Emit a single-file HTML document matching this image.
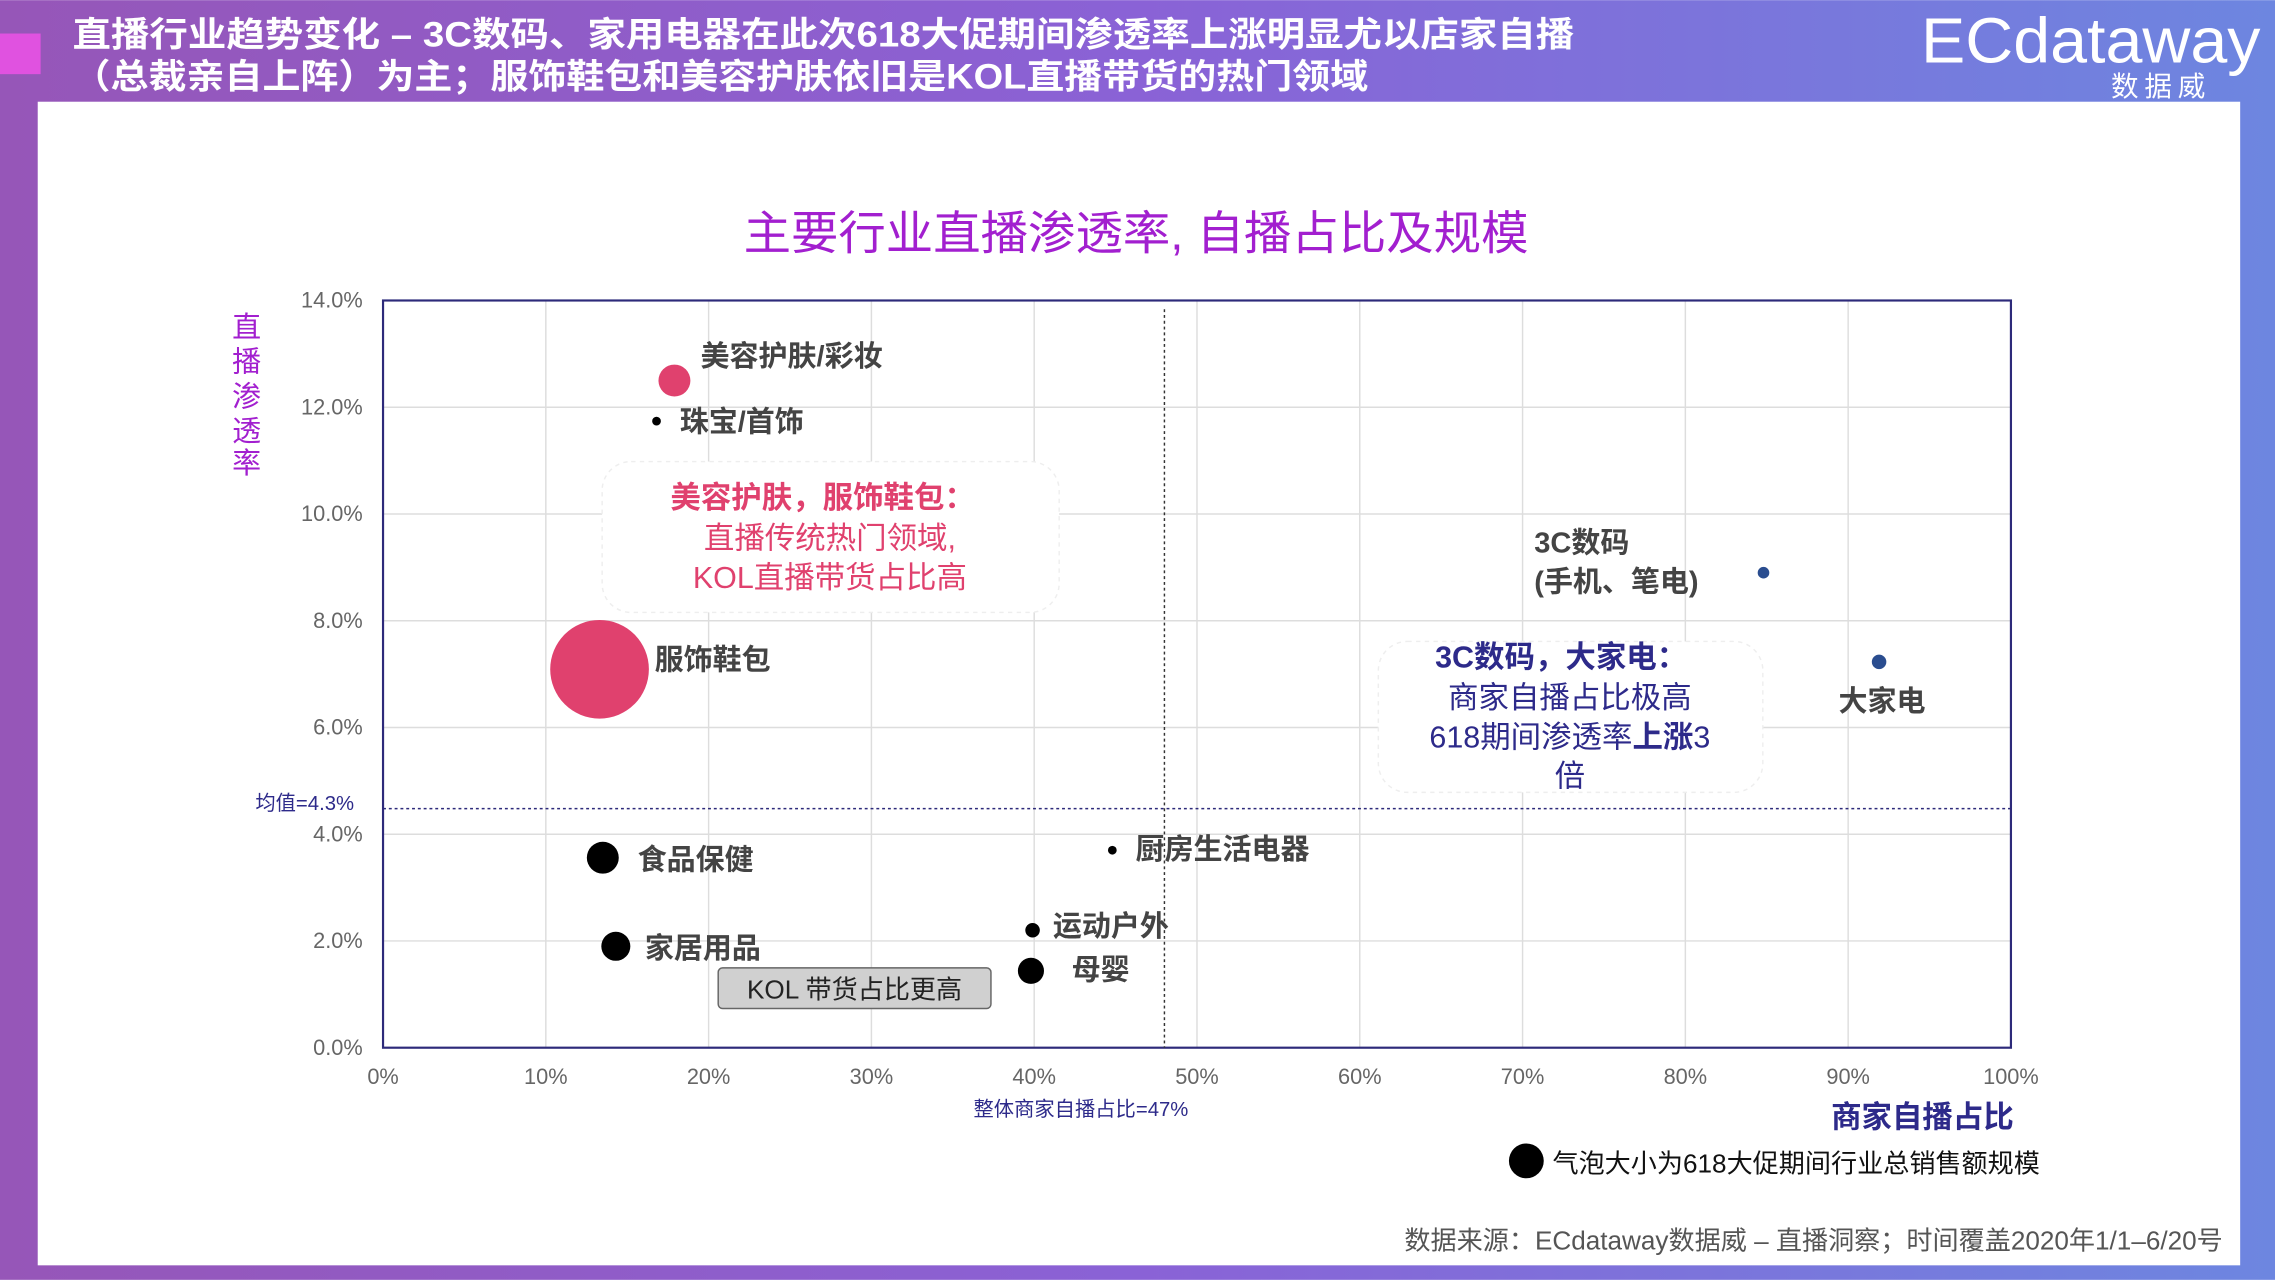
<!DOCTYPE html>
<html><head><meta charset="utf-8"><style>
body{margin:0;width:2275px;height:1280px;overflow:hidden;font-family:"Liberation Sans","Noto Sans CJK SC",sans-serif}
svg{display:block}
text{font-family:"Liberation Sans","Noto Sans CJK SC",sans-serif}
</style></head><body>
<svg id="c" width="2275" height="1280" viewBox="0 0 1568 882">
<defs><linearGradient id="bg" x1="0" x2="1"><stop offset="0" stop-color="#9656b8"/><stop offset="0.5" stop-color="#8a62d6"/><stop offset="1" stop-color="#6d86e0"/></linearGradient></defs>
<rect width="1568" height="882" fill="url(#bg)"/>
<rect x="0" y="23" width="28" height="28" fill="#e052e0"/>
<text x="50" y="32" font-size="24" font-weight="bold" fill="#fff" textLength="1035" lengthAdjust="spacingAndGlyphs">直播行业趋势变化 – 3C数码、家用电器在此次618大促期间渗透率上涨明显尤以店家自播</text>
<text x="50" y="61" font-size="24" font-weight="bold" fill="#fff" textLength="893" lengthAdjust="spacingAndGlyphs">（总裁亲自上阵）为主；服饰鞋包和美容护肤依旧是KOL直播带货的热门领域</text>
<text x="1324" y="43" font-size="44" fill="#fff" textLength="234" lengthAdjust="spacingAndGlyphs">ECdataway</text>
<text x="1455" y="66" font-size="19" fill="#fff" letter-spacing="4">数据威</text>
<rect x="26" y="70" width="1518" height="802" fill="#fff"/>
<text x="783" y="172" font-size="32" fill="#a21fcf" text-anchor="middle" textLength="541" lengthAdjust="spacingAndGlyphs">主要行业直播渗透率, 自播占比及规模</text>
<g id="grid"></g>
<rect x="264" y="207" width="1122" height="515" fill="none" stroke="#2d2a7a" stroke-width="1.5"/>
<g font-size="20" fill="#a21fcf"><text x="170" y="232" text-anchor="middle">直</text><text x="170" y="256" text-anchor="middle">播</text><text x="170" y="280" text-anchor="middle">渗</text><text x="170" y="304" text-anchor="middle">透</text><text x="170" y="326" text-anchor="middle">率</text></g>
<text x="1325" y="777" font-size="21" font-weight="bold" fill="#2d2a8a" text-anchor="middle">商家自播占比</text>
<g id="refs"></g>
<g>
<rect x="415" y="318" width="315" height="104" rx="20" fill="#fff" stroke="#eee" stroke-dasharray="3 3"/>
<text x="567" y="350" font-size="21" font-weight="bold" fill="#e0416e" text-anchor="middle">美容护肤，服饰鞋包：</text>
<text x="572" y="378" font-size="21" fill="#e0416e" text-anchor="middle">直播传统热门领域,</text>
<text x="572" y="405" font-size="21" fill="#e0416e" text-anchor="middle">KOL直播带货占比高</text></g>
<g>
<rect x="950" y="442" width="265" height="104" rx="20" fill="#fff" stroke="#eee" stroke-dasharray="3 3"/>
<text x="1076" y="460" font-size="21" font-weight="bold" fill="#2d2a8a" text-anchor="middle">3C数码，大家电：</text>
<text x="1082" y="488" font-size="21" fill="#2d2a8a" text-anchor="middle">商家自播占比极高</text>
<text x="1082" y="515" font-size="21" fill="#2d2a8a" text-anchor="middle">618期间渗透率<tspan font-weight="bold">上涨</tspan>3</text>
<text x="1082" y="542" font-size="21" fill="#2d2a8a" text-anchor="middle">倍</text></g>
<rect x="495" y="667" width="188" height="28" rx="3" fill="#d0d0d0" stroke="#666"/>
<text x="589" y="688" font-size="18" fill="#222" text-anchor="middle">KOL 带货占比更高</text>
<g id="pts"></g>
<circle cx="1052" cy="800" r="12" fill="#000"/>
<text x="1070" y="808" font-size="18" fill="#111">气泡大小为618大促期间行业总销售额规模</text>
<text x="1532" y="861" font-size="18" fill="#555" text-anchor="end">数据来源：ECdataway数据威 – 直播洞察；时间覆盖2020年1/1–6/20号</text>
</svg>
<script>
const xTicks=[0,10,20,30,40,50,60,70,80,90,100];
const yTicks=[0,2,4,6,8,10,12,14];
const names=["美容护肤/彩妆","珠宝/首饰","服饰鞋包","3C数码","大家电","食品保健","家居用品","厨房生活电器","运动户外","母婴"];
const selfShare=[17.9,16.8,13.3,84.8,91.9,13.5,14.3,44.8,39.9,39.8];
const penetration=[12.5,11.74,7.09,8.9,7.23,3.56,1.9,3.7,2.2,1.44];
const sizes=[11,3,34,4,5,11,10,3,5,9];
const colors=["#e0416e","#000","#e0416e","#2a4d8f","#2a4d8f","#000","#000","#000","#000","#000"];
const meanY=4.48, meanX=48;
const X=v=>264+v/100*1122, Y=v=>722-v/14*515;
const NS="http://www.w3.org/2000/svg";
function mk(t,a,p,txt){const e=document.createElementNS(NS,t);for(const k in a)e.setAttribute(k,a[k]);if(txt!=null)e.textContent=txt;p.appendChild(e);return e;}
const g=document.getElementById('grid');
xTicks.forEach(v=>{
const l=mk('line',{x1:X(v),x2:X(v),y1:207,y2:722,stroke:'#ddd'},g);


const t=mk('text',{x:X(v),y:747,'font-size':15,fill:'#666','text-anchor':'middle'},g,v+'%');


});
yTicks.forEach(v=>{
const l=mk('line',{x1:264,x2:1386,y1:Y(v),y2:Y(v),stroke:'#ddd'},g);


const t=mk('text',{x:250,y:Y(v)+5,'font-size':15,fill:'#666','text-anchor':'end'},g,v.toFixed(1)+'%');


});
const r=document.getElementById('refs');
const h=mk('line',{x1:264,x2:1386,y1:Y(meanY),y2:Y(meanY),stroke:'#2d2a7a','stroke-dasharray':'2 2'},r);


const ht=mk('text',{x:176,y:Y(meanY)+1,'font-size':14,fill:'#2d2a8a'},r,'均值=4.3%');


const vl=mk('line',{x1:X(meanX),x2:X(meanX),y1:213,y2:722,stroke:'#333','stroke-dasharray':'2 2'},r);


const vt=mk('text',{x:745,y:769,'font-size':14,fill:'#2d2a8a','text-anchor':'middle'},r,'整体商家自播占比=47%');


const labelPos=[[18,-10],[16,7],[38,0],[-158,-8],[-28,34],[24,8],[20,8],[16,6],[14,4],[28,6]];
const p=document.getElementById('pts');
names.forEach((n,i)=>{
const cx=X(selfShare[i]),cy=Y(penetration[i]);
const c=mk('circle',{cx:cx,cy:cy,r:sizes[i],fill:colors[i]},p);


const lx=cx+labelPos[i][0],ly=cy+labelPos[i][1];
let t;
if(i===3){
t=mk('text',{x:lx,y:ly-6,'font-size':20,'font-weight':'bold',fill:'#444'},p);
mk('tspan',{x:lx,dy:0},t,'3C数码');
mk('tspan',{x:lx,dy:27},t,'(手机、笔电)');
}else{
t=mk('text',{x:lx,y:ly,'font-size':20,'font-weight':'bold',fill:'#444'},p,n);
}


});
</script>
</body></html>
